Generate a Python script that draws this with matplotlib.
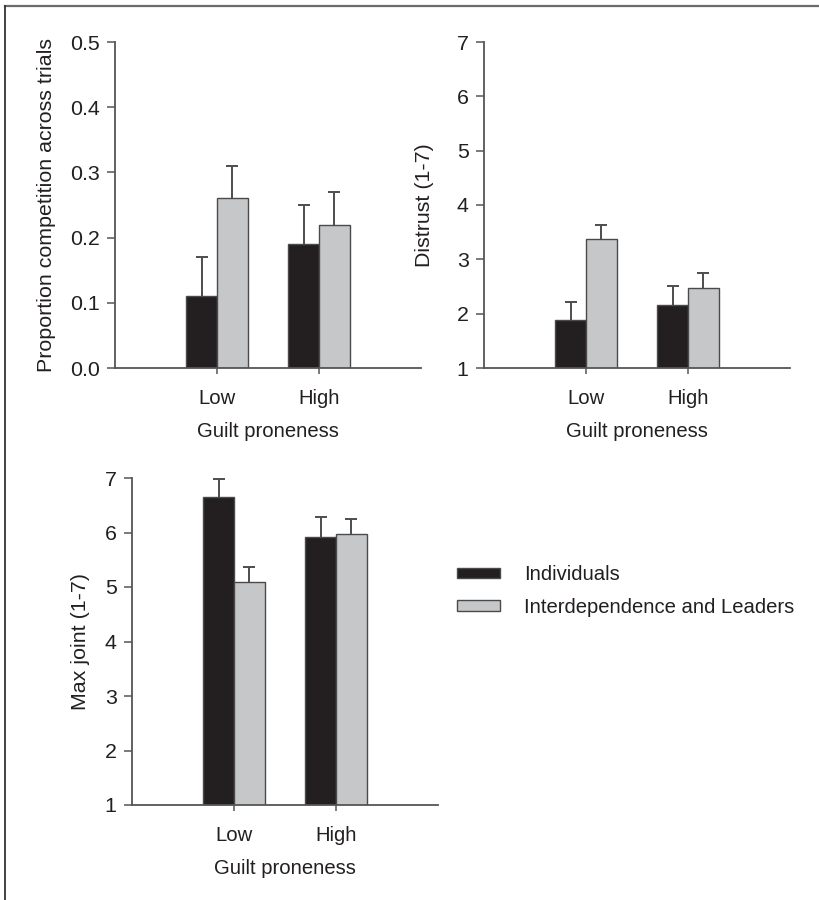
import numpy as np
import matplotlib
matplotlib.use("Agg")
import matplotlib.pyplot as plt
from matplotlib.patches import Patch
from matplotlib.lines import Line2D

plt.rcParams['font.family'] = ['Liberation Sans', 'DejaVu Sans']

categories = ["Low", "High"]
series_names = ["Individuals", "Interdependence and Leaders"]

competition_ind = [0.11, 0.19]
competition_ind_err = [0.06, 0.06]
competition_int = [0.26, 0.22]
competition_int_err = [0.05, 0.05]

distrust_ind = [1.88, 2.16]
distrust_ind_err = [0.34, 0.35]
distrust_int = [3.37, 2.47]
distrust_int_err = [0.27, 0.27]

maxjoint_ind = [6.66, 5.92]
maxjoint_ind_err = [0.33, 0.36]
maxjoint_int = [5.10, 5.97]
maxjoint_int_err = [0.27, 0.28]

W, H = 819, 900
fig = plt.figure(figsize=(W / 100, H / 100), dpi=100)

BLACK = "#231f20"
GRAY = "#c6c7c8"
EDGE = "#4a4a4a"
AX = "#555555"
FS = 14.6
FS_Y = 15.4


def px_axes(x0, y0, x1, y1):
    return fig.add_axes([x0 / W, 1 - y1 / H, (x1 - x0) / W, (y1 - y0) / H])


def draw_panel(ax, ind, ind_err, inter, inter_err, ylim, yticks, ylabel, fmt, ylab_x):
    x = np.arange(len(categories))
    bw = 0.3
    for off, vals, errs, col in [(-bw / 2, ind, ind_err, BLACK), (bw / 2, inter, inter_err, GRAY)]:
        ax.bar(x + off, vals, width=bw, color=col, edgecolor=EDGE, linewidth=1.0, zorder=2)
        eb = ax.errorbar(x + off, vals, yerr=[np.zeros(len(vals)), errs], fmt='none',
                         ecolor="#4d4d4d", elinewidth=1.4, capsize=4.5, capthick=1.4, zorder=1)
        for cl in eb[1]:
            yd = np.asarray(cl.get_ydata(), dtype=float)
            if np.allclose(yd, np.asarray(vals, dtype=float)):
                cl.set_visible(False)
    ax.set_xlim(-1, 2)
    ax.set_ylim(*ylim)
    ax.set_yticks(yticks)
    ax.set_yticklabels([fmt.format(v) for v in yticks])
    ax.set_xticks(x)
    ax.set_xticklabels(categories)
    for s in ["top", "right"]:
        ax.spines[s].set_visible(False)
    for s in ["left", "bottom"]:
        ax.spines[s].set_color(AX)
        ax.spines[s].set_linewidth(1.3)
    ax.tick_params(axis='y', direction='out', length=5.5, width=1.1, color=AX, pad=5.5,
                   labelsize=FS_Y, labelcolor="#231f20")
    ax.tick_params(axis='x', direction='out', length=4, width=1.1, color=AX, pad=11,
                   labelsize=FS, labelcolor="#231f20")
    ax.set_xlabel("Guilt proneness", fontsize=FS, color="#231f20", labelpad=10.5)
    ax.set_ylabel(ylabel, fontsize=FS_Y, color="#231f20", va='center')
    ax.yaxis.set_label_coords(ylab_x, 0.5)
    ax.set_facecolor('none')


ax1 = px_axes(115, 42, 421, 368)
draw_panel(ax1, competition_ind, competition_ind_err, competition_int, competition_int_err,
           (0, 0.5), [0.0, 0.1, 0.2, 0.3, 0.4, 0.5], "Proportion competition across trials",
           "{:.1f}", (46 - 115) / 306)

ax2 = px_axes(484, 42, 790, 368)
draw_panel(ax2, distrust_ind, distrust_ind_err, distrust_int, distrust_int_err,
           (1, 7), [1, 2, 3, 4, 5, 6, 7], "Distrust (1-7)", "{:d}", (425 - 484) / 306)

ax3 = px_axes(132, 478, 438, 805)
draw_panel(ax3, maxjoint_ind, maxjoint_ind_err, maxjoint_int, maxjoint_int_err,
           (1, 7), [1, 2, 3, 4, 5, 6, 7], "Max joint (1-7)", "{:d}", (81 - 132) / 306)

handles = [Patch(facecolor=BLACK, edgecolor=EDGE, linewidth=1.0),
           Patch(facecolor=GRAY, edgecolor=EDGE, linewidth=1.0)]
fig.legend(handles, series_names, loc='upper left', bbox_to_anchor=(457 / W, 1 - 565 / H),
           frameon=False, fontsize=FS, handlelength=2.1, handleheight=0.4,
           handletextpad=1.2, labelspacing=0.68, borderpad=0, borderaxespad=0,
           labelcolor="#231f20")

# figure frame (top and left)
fig.add_artist(Line2D([4.5 / W, 1.0], [1 - 5.5 / H, 1 - 5.5 / H], transform=fig.transFigure,
                      color="#6b6b6b", linewidth=1.6))
fig.add_artist(Line2D([4.5 / W, 4.5 / W], [1 - 5.5 / H, 0], transform=fig.transFigure,
                      color="#333333", linewidth=1.3))

fig.savefig("out.png", dpi=100, facecolor="white")
